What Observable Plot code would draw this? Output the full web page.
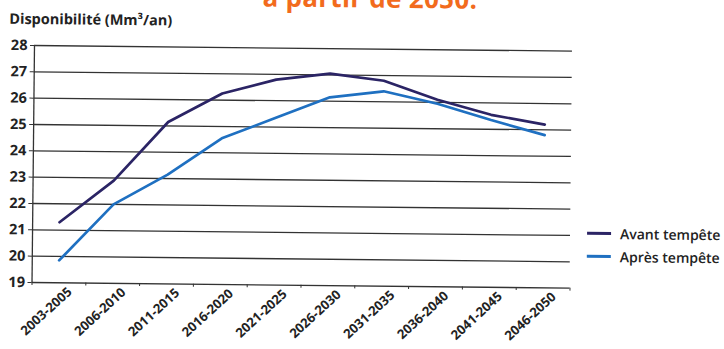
<!DOCTYPE html>
<html>
<head>
<meta charset="utf-8">
<script src="https://cdn.jsdelivr.net/npm/d3@7"></script>
<script src="https://cdn.jsdelivr.net/npm/@observablehq/plot@0.6"></script>
<style>
  html, body { margin: 0; padding: 0; background: #fff; overflow: hidden; }
  #page { width: 724px; height: 349px; overflow: hidden; position: relative; }
  /* the printed page sits very slightly askew */
  #wrap { position: absolute; left: 0; top: 0; width: 724px; height: 349px; font-family: "Open Sans", sans-serif;
          transform: rotate(0.6deg); transform-origin: 34px 45px; }
  #chart { position: absolute; left: 0; top: 0; }
  .headline { position: absolute; left: 262px; top: -24px; font-size: 26px; font-weight: 700; color: #f26b1d; white-space: nowrap; letter-spacing: 0.3px; line-height: 36px; }
  .ytitle { position: absolute; left: 9px; top: 9px; font-size: 14.5px; font-weight: 700; color: #222; white-space: nowrap; }
  .legend { position: absolute; left: 589px; font-size: 14px; font-weight: 600; color: #222; white-space: nowrap; display: flex; align-items: center; }
  .legend span.sw { display: inline-block; width: 24px; height: 3.5px; margin-right: 9px; }
</style>
</head>
<body>
<div id="page">
<div id="wrap">
  <div class="headline">à partir de 2050.</div>
  <div class="ytitle">Disponibilité (Mm³/an)</div>
  <div id="chart"></div>
  <div class="legend" style="top:218px"><span class="sw" style="background:#2b2465"></span>Avant tempête</div>
  <div class="legend" style="top:241px"><span class="sw" style="background:#1f70c1"></span>Après tempête</div>
</div>
</div>
<script>
// Periods on the horizontal axis
const periods = ["2003-2005", "2006-2010", "2011-2015", "2016-2020", "2021-2025",
                 "2026-2030", "2031-2035", "2036-2040", "2041-2045", "2046-2050"];
// Availability (Mm³/an) before the storm
const avant = [21.3, 22.9, 25.15, 26.25, 26.8, 27.05, 26.8, 26.1, 25.55, 25.2];
// Availability (Mm³/an) after the storm
const apres = [19.85, 22.0, 23.15, 24.55, 25.35, 26.15, 26.4, 25.95, 25.35, 24.8];
// Vertical axis ticks
const yTicks = [19, 20, 21, 22, 23, 24, 25, 26, 27, 28];

const idx = periods.map((_, i) => i);
const rows = (vals, serie) => vals.map((v, i) => ({i, v, serie}));
const data = [...rows(avant, "Avant tempête"), ...rows(apres, "Après tempête")];
const edges = idx.map(i => i - 0.5).concat([idx.length - 0.5]);

const chart = Plot.plot({
  width: 724,
  height: 349,
  marginLeft: 34,
  marginRight: 152,
  marginTop: 45,
  marginBottom: 67,
  style: {fontFamily: "Open Sans, sans-serif", color: "#222", background: "transparent"},
  x: {type: "linear", domain: [-0.5, periods.length - 0.5]},
  y: {domain: [19, 28]},
  color: {domain: ["Avant tempête", "Après tempête"], range: ["#2b2465", "#1f70c1"]},
  marks: [
    Plot.ruleY(yTicks, {stroke: "#333", strokeWidth: 1.3}),
    Plot.ruleX([-0.5], {stroke: "#333", strokeWidth: 1.3}),
    Plot.axisY(yTicks, {tickSize: 4, tickPadding: 3, fontSize: 14.5, fontWeight: 700, stroke: "#333", label: null}),
    Plot.axisX(edges, {tickSize: 3, tickFormat: () => "", stroke: "#333", label: null}),
    Plot.axisX(idx, {tickSize: 0, tickPadding: 7, tickRotate: -43, dx: 11,
                     tickFormat: i => periods[i], fontSize: 13, fontWeight: 700, label: null}),
    Plot.line(data, {x: "i", y: "v", z: "serie", stroke: "serie", strokeWidth: 2.7, strokeLinejoin: "round"})
  ]
});
document.getElementById("chart").append(chart);
</script>
</body>
</html>
